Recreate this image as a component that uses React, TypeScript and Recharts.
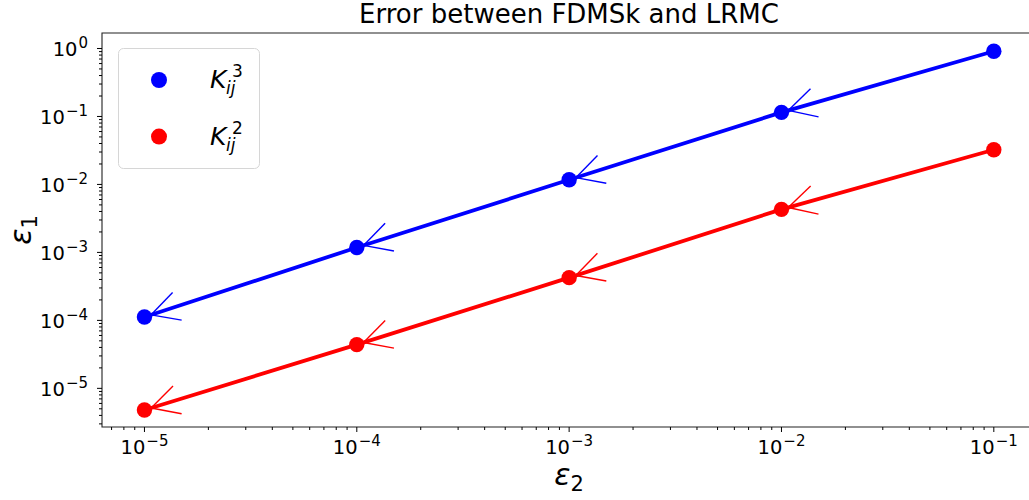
import React from "react";
import { ComposedChart, Line, XAxis, YAxis, ReferenceArea, Legend } from "recharts";

// eps_2 values (x) and the error for each kernel (y)
const eps2 = [1e-5, 1e-4, 1e-3, 1e-2, 1e-1];
const errK3 = [1.12e-4, 1.18e-3, 1.17e-2, 0.115, 0.91];
const errK2 = [4.8e-6, 4.4e-5, 4.25e-4, 4.3e-3, 3.24e-2];

const xMajorTicks = [1e-5, 1e-4, 1e-3, 1e-2, 1e-1];
const yMajorTicks = [1e-5, 1e-4, 1e-3, 1e-2, 1e-1, 1];
const minorMultipliers = [2, 3, 4, 5, 6, 7, 8, 9];
const decades = [1e-6, 1e-5, 1e-4, 1e-3, 1e-2, 1e-1, 1];

const xDomain: [number, number] = [6.31e-6, 0.158];
const yDomain: [number, number] = [2.7e-6, 1.69];

const seriesInfo = [
  { key: "k3", color: "#0000ff", sup: "3" },
  { key: "k2", color: "#ff0000", sup: "2" },
];

const data = eps2.map((x, i) => ({ eps2: x, k3: errK3[i], k2: errK2[i] }));

const withMinor = (majors: number[], dom: [number, number]) => {
  const all = [...majors];
  decades.forEach((d) => minorMultipliers.forEach((m) => all.push(d * m)));
  return all.filter((v) => v >= dom[0] && v <= dom[1]).sort((a, b) => a - b);
};
const xTicks = withMinor(xMajorTicks, xDomain);
const yTicks = withMinor(yMajorTicks, yDomain);

const W = 1045;
const H = 500;
const M = { top: 33, right: 9, bottom: 0, left: 0 };
const Y_W = 102;
const X_H = 73;
const plotW = W - M.left - M.right - Y_W;
const plotH = H - M.top - M.bottom - X_H;
const pxPerDecX = plotW / Math.log10(xDomain[1] / xDomain[0]);
const pxPerDecY = plotH / Math.log10(yDomain[1] / yDomain[0]);

const FONT = "DejaVu Sans";

const isMajor = (v: number) => Math.abs(Math.log10(v) - Math.round(Math.log10(v))) < 1e-6;
const expText = (v: number) => {
  const e = Math.round(Math.log10(v));
  return e < 0 ? `\u2212${-e}` : `${e}`;
};

const XTick = (props: any) => {
  const { x, y, payload } = props;
  const v = payload.value;
  const major = isMajor(v);
  return (
    <g>
      <line x1={x} y1={y} x2={x} y2={y + (major ? 5 : 3)} stroke="#000" strokeWidth={1} />
      {major && (
        <text x={x} y={y + 27} textAnchor="middle" fontFamily={FONT} fontSize={19.5} fill="#000">
          10
          <tspan dx={1} dy={-8.5} fontSize={15}>{expText(v)}</tspan>
        </text>
      )}
    </g>
  );
};

const YTick = (props: any) => {
  const { x, y, payload } = props;
  const v = payload.value;
  const major = isMajor(v);
  return (
    <g>
      <line x1={x} y1={y} x2={x - (major ? 5 : 3)} y2={y} stroke="#000" strokeWidth={1} />
      {major && (
        <text x={x - 14} y={y + 8} textAnchor="end" fontFamily={FONT} fontSize={19.5} fill="#000">
          10
          <tspan dx={1} dy={-8.5} fontSize={15}>{expText(v)}</tspan>
        </text>
      )}
    </g>
  );
};

// marker plus a small open arrow head pointing back along the segment
const makeDot = (color: string, values: number[]) => (props: any) => {
  const { cx, cy, index, points } = props;
  if (cx == null || cy == null) return <g key={`d-${index}`} />;
  let nx: number | undefined;
  let ny: number | undefined;
  if (points && points[index + 1]) {
    nx = points[index + 1].x;
    ny = points[index + 1].y;
  } else if (index + 1 < values.length) {
    nx = cx + pxPerDecX * Math.log10(eps2[index + 1] / eps2[index]);
    ny = cy - pxPerDecY * Math.log10(values[index + 1] / values[index]);
  }
  let arrow = null;
  if (nx != null && ny != null) {
    const dx = nx - cx;
    const dy = ny - cy;
    const len = Math.hypot(dx, dy);
    const ux = dx / len;
    const uy = dy / len;
    const tx = cx + 7 * ux;
    const ty = cy + 7 * uy;
    const a = (28 * Math.PI) / 180;
    const L = 31;
    const rot = (s: number) => [ux * Math.cos(a) - uy * s * Math.sin(a), ux * s * Math.sin(a) + uy * Math.cos(a)];
    const [ax, ay] = rot(1);
    const [bx, by] = rot(-1);
    arrow = (
      <g stroke={color} strokeWidth={1.4}>
        <line x1={tx} y1={ty} x2={tx + L * ax} y2={ty + L * ay} />
        <line x1={tx} y1={ty} x2={tx + L * bx} y2={ty + L * by} />
      </g>
    );
  }
  return (
    <g key={`d-${index}`}>
      {arrow}
      <circle cx={cx} cy={cy} r={7.7} fill={color} stroke="none" />
    </g>
  );
};

const renderLegend = () => (
  <svg width={143} height={122} style={{ display: "block" }}>
    <rect x={0.5} y={0.5} width={141} height={120} rx={5} fill="#fff" fillOpacity={0.8} stroke="#d6d6d6" strokeWidth={1} />
    {seriesInfo.map((s, i) => {
      const cy = 32 + i * 56.6;
      return (
        <g key={s.key}>
          <circle cx={41} cy={cy} r={8} fill={s.color} />
          <text x={92} y={cy + 8} fontFamily={FONT} fontStyle="italic" fontSize={25} fill="#000">K</text>
          <text x={114} y={cy - 3} fontFamily={FONT} fontSize={17} fill="#000">{s.sup}</text>
          <text x={108} y={cy + 14} fontFamily={FONT} fontStyle="italic" fontSize={17} fill="#000">ij</text>
        </g>
      );
    })}
  </svg>
);

export default function App() {
  const plotCx = M.left + Y_W + plotW / 2;
  const plotCy = M.top + plotH / 2;
  return (
    <div style={{ position: "absolute", left: 0, top: 0, width: 1029, height: 500, overflow: "hidden", background: "#fff" }}>
      <ComposedChart width={W} height={H} data={data} margin={M}>
        <XAxis
          dataKey="eps2"
          type="number"
          scale="log"
          domain={xDomain}
          allowDataOverflow
          ticks={xTicks}
          interval={0}
          tickSize={0}
          tickMargin={0}
          tickLine={false}
          axisLine={false}
          height={X_H}
          tick={<XTick />}
        />
        <YAxis
          type="number"
          scale="log"
          domain={yDomain}
          allowDataOverflow
          ticks={yTicks}
          interval={0}
          tickSize={0}
          tickMargin={0}
          tickLine={false}
          axisLine={false}
          width={Y_W}
          tick={<YTick />}
        />
        <ReferenceArea
          x1={xDomain[0]}
          x2={xDomain[1]}
          y1={yDomain[0]}
          y2={yDomain[1]}
          fill="none"
          stroke="#222"
          strokeWidth={1.1}
          ifOverflow="visible"
        />
        <Line
          dataKey="k3"
          stroke="#0000ff"
          strokeWidth={3.8}
          dot={makeDot("#0000ff", errK3)}
          activeDot={false}
          isAnimationActive={false}
        />
        <Line
          dataKey="k2"
          stroke="#ff0000"
          strokeWidth={3.8}
          dot={makeDot("#ff0000", errK2)}
          activeDot={false}
          isAnimationActive={false}
        />
        <Legend
          layout="vertical"
          align="center"
          verticalAlign="middle"
          content={renderLegend}
          wrapperStyle={{ left: 118, top: 48, width: 143, height: 122 }}
        />
        <text x={plotCx} y={23} textAnchor="middle" fontFamily={FONT} fontSize={26} fill="#000">
          Error between FDMSk and LRMC
        </text>
        <text x={plotCx} y={485} textAnchor="middle" fontFamily={FONT} fontSize={30} fill="#000">
          <tspan fontStyle="italic">ε</tspan>
          <tspan dy={6} fontSize={21}>2</tspan>
        </text>
        <text
          x={0}
          y={0}
          transform={`translate(31, ${plotCy}) rotate(-90)`}
          textAnchor="middle"
          fontFamily={FONT}
          fontSize={30}
          fill="#000"
        >
          <tspan fontStyle="italic">ε</tspan>
          <tspan dy={6} fontSize={21}>1</tspan>
        </text>
      </ComposedChart>
    </div>
  );
}
